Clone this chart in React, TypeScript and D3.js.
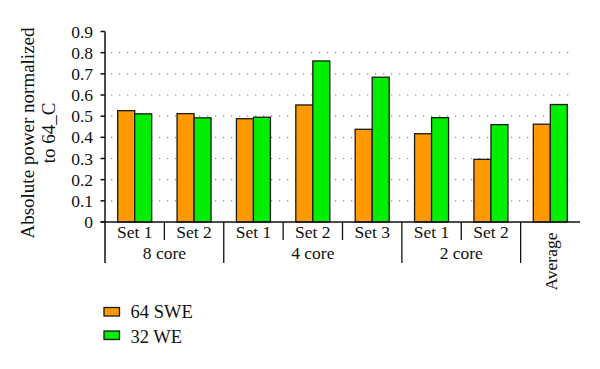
import React from "react";
import * as d3 from "d3";

const categories = ["Set 1", "Set 2", "Set 1", "Set 2", "Set 3", "Set 1", "Set 2", "Average"];
const groups = [
  { label: "8 core", start: 0, end: 2 },
  { label: "4 core", start: 2, end: 5 },
  { label: "2 core", start: 5, end: 7 },
];
const seriesNames = ["64 SWE", "32 WE"];
const swe64 = [0.526, 0.512, 0.488, 0.553, 0.438, 0.417, 0.296, 0.462];
const we32 = [0.511, 0.492, 0.495, 0.761, 0.684, 0.493, 0.46, 0.555];
const yTicks = [0, 0.1, 0.2, 0.3, 0.4, 0.5, 0.6, 0.7, 0.8, 0.9];
const colors = ["#FF9900", "#00EE00"];

const W = 600;
const H = 369;
const left = 105;
const right = 580;
const top = 31.5;
const bottom = 222;
const font = "'Liberation Serif', 'DejaVu Serif', serif";

export default function App() {
  const y = d3.scaleLinear().domain([0, 0.9]).range([bottom, top]);
  const x = d3
    .scaleBand<number>()
    .domain(d3.range(categories.length))
    .range([left, right])
    .paddingInner(0)
    .paddingOuter(0);
  const bw = 17;
  const series = [swe64, we32];
  const step = x.step();

  return (
    <svg width={W} height={H} style={{ position: "absolute", left: 0, top: 0, background: "#fff" }} fontFamily={font}>
      {/* gridlines */}
      {yTicks
        .filter((t) => t > 0 && t < 0.85)
        .map((t) => (
          <line
            key={"g" + t}
            x1={left + 6}
            x2={575}
            y1={y(t)}
            y2={y(t)}
            stroke="#8a8a8a"
            strokeWidth={1.2}
            strokeDasharray="1.3,6.7"
          />
        ))}
      {/* bars */}
      {categories.map((c, i) => {
        const cx = (x(i) as number) + step / 2;
        return series.map((s, k) => (
          <rect
            key={"b" + i + "_" + k}
            x={cx - bw + k * bw}
            y={y(s[i])}
            width={bw}
            height={bottom - y(s[i])}
            fill={colors[k]}
            stroke="#1a1a1a"
            strokeWidth={1.3}
          />
        ));
      })}
      {/* y axis */}
      <line x1={left} x2={left} y1={top} y2={263} stroke="#111" strokeWidth={1.5} />
      {yTicks.map((t) => (
        <g key={"t" + t}>
          <line x1={left - 4.5} x2={left} y1={y(t)} y2={y(t)} stroke="#111" strokeWidth={1.5} />
          <text x={left - 12} y={y(t)} dy="0.35em" textAnchor="end" fontSize={17.5} fill="#111">
            {t === 0 ? "0" : t.toFixed(1)}
          </text>
        </g>
      ))}
      {/* baseline */}
      <line x1={left - 4.5} x2={right} y1={bottom} y2={bottom} stroke="#111" strokeWidth={1.5} />
      {/* category labels */}
      {categories.map((c, i) => {
        const cx = (x(i) as number) + step / 2;
        if (c === "Average") {
          return (
            <text
              key={"c" + i}
              transform={`translate(${cx + 1},${261.5}) rotate(-90)`}
              textAnchor="middle"
              dy="0.35em"
              fontSize={17.5}
              fill="#111"
            >
              {c}
            </text>
          );
        }
        return (
          <text key={"c" + i} x={cx} y={238} textAnchor="middle" fontSize={17.5} fill="#111">
            {c}
          </text>
        );
      })}
      {/* sub dividers */}
      {groups.flatMap((g) =>
        d3.range(g.start + 1, g.end).map((j) => (
          <line
            key={"sd" + j}
            x1={x(j) as number}
            x2={x(j) as number}
            y1={bottom}
            y2={240}
            stroke="#111"
            strokeWidth={1.3}
          />
        ))
      )}
      {/* group dividers */}
      {groups.map((g) => (
        <line
          key={"gd" + g.end}
          x1={x(g.end) as number}
          x2={x(g.end) as number}
          y1={bottom}
          y2={263}
          stroke="#111"
          strokeWidth={1.3}
        />
      ))}
      {/* group labels */}
      {groups.map((g) => {
        const x0 = x(g.start) as number;
        const x1 = (x(g.end - 1) as number) + step;
        return (
          <text key={"gl" + g.label} x={(x0 + x1) / 2} y={259} textAnchor="middle" fontSize={17.5} fill="#111">
            {g.label}
          </text>
        );
      })}
      {/* y axis title */}
      <text transform="translate(34,133) rotate(-90)" textAnchor="middle" fontSize={19} fill="#111">
        Absolute power normalized
      </text>
      <text transform="translate(55,133) rotate(-90)" textAnchor="middle" fontSize={19} fill="#111">
        to 64_C
      </text>
      {/* legend */}
      {seriesNames.map((n, k) => (
        <g key={"l" + n}>
          <rect
            x={104}
            y={307.5 + k * 23.5}
            width={15.5}
            height={8.5}
            fill={colors[k]}
            stroke="#1a1a1a"
            strokeWidth={1.3}
          />
          <text x={130.5} y={318 + k * 25} fontSize={18.5} fill="#111">
            {n}
          </text>
        </g>
      ))}
    </svg>
  );
}
